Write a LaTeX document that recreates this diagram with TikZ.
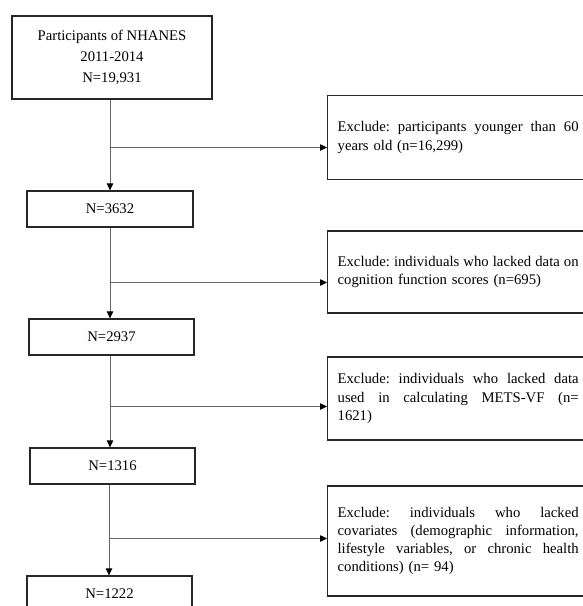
\documentclass[tikz,border=0pt]{standalone}
\usepackage{fontspec}
\setmainfont{Liberation Serif}
\usetikzlibrary{arrows.meta,calc}
\frenchspacing
\newcommand\jline[1]{\leavevmode\hbox to 241pt{#1}}
\begin{document}
\begin{tikzpicture}[x=1pt,y=-1pt,
  lbox/.style={draw=black!85,line width=1.3pt,inner sep=0pt,font=\fontsize{14.7}{21}\selectfont,align=center},
  rbox/.style={draw=black!85,line width=1.3pt,anchor=west,inner xsep=10pt,inner ysep=0pt,text width=241pt,align=left,font=\fontsize{14.7}{18.3}\selectfont\frenchspacing,minimum width=261pt},
  conn/.style={draw=black!60,line width=0.8pt},
  arr/.style={conn,-{Triangle[length=7pt,width=6.5pt,color=black]}}]
\useasboundingbox (0,0) rectangle (583,606);
\clip (0,0) rectangle (583,606);
% left boxes
\node[lbox,minimum width=200pt,minimum height=83pt] (b0) at (112,57.5) {Participants of NHANES\\2011-2014\\N=19,931};
\node[lbox,minimum width=166pt,minimum height=36pt] (b1) at (110,209) {N=3632};
\node[lbox,minimum width=165pt,minimum height=36pt] (b2) at (111.5,337) {N=2937};
\node[lbox,minimum width=165pt,minimum height=36pt] (b3) at (112.5,466) {N=1316};
\node[lbox,minimum width=165pt,minimum height=36pt] (b4) at (109.5,594) {N=1222};
% right boxes
\node[rbox,minimum height=84pt] (r1) at (327,137.5) {\jline{Exclude:\hfill participants\hfill younger\hfill than\hfill 60}\\years old (n=16,299)};
\node[rbox,minimum height=82pt] (r2) at (327,272) {\jline{Exclude:\hfill individuals\hfill who\hfill lacked\hfill data\hfill on}\\cognition function scores (n=695)};
\node[rbox,minimum height=83pt] (r3) at (327,398.5) {\jline{Exclude:\hfill individuals\hfill who\hfill lacked\hfill data}\\\jline{used\hfill in\hfill calculating\hfill METS-VF\hfill (n=}\\1621)};
\node[rbox,minimum height=110pt] (r4) at (327,541) {\jline{Exclude:\hfill individuals\hfill who\hfill lacked}\\\jline{covariates\hfill (demographic\hfill information,}\\\jline{lifestyle\hfill variables,\hfill or\hfill chronic\hfill health}\\conditions) (n= 94)};
% junction points
\coordinate (j1) at (110,147.5);
\coordinate (j2) at (110,282.5);
\coordinate (j3) at (110,406.5);
\coordinate (j4) at (109,538.5);
% vertical connectors
\draw[arr] (b1.north |- b0.south) -- (b1.north);
\draw[arr] (b1.south -| j2) -- (j2 |- b2.north);
\draw[arr] (b2.south -| j3) -- (j3 |- b3.north);
\draw[arr] (b3.south -| j4) -- (j4 |- b4.north);
% exclusion branches
\draw[arr] (j1) -- (j1 -| r1.west);
\draw[arr] (j2) -- (j2 -| r2.west);
\draw[arr] (j3) -- (j3 -| r3.west);
\draw[arr] (j4) -- (j4 -| r4.west);
\end{tikzpicture}
\end{document}
